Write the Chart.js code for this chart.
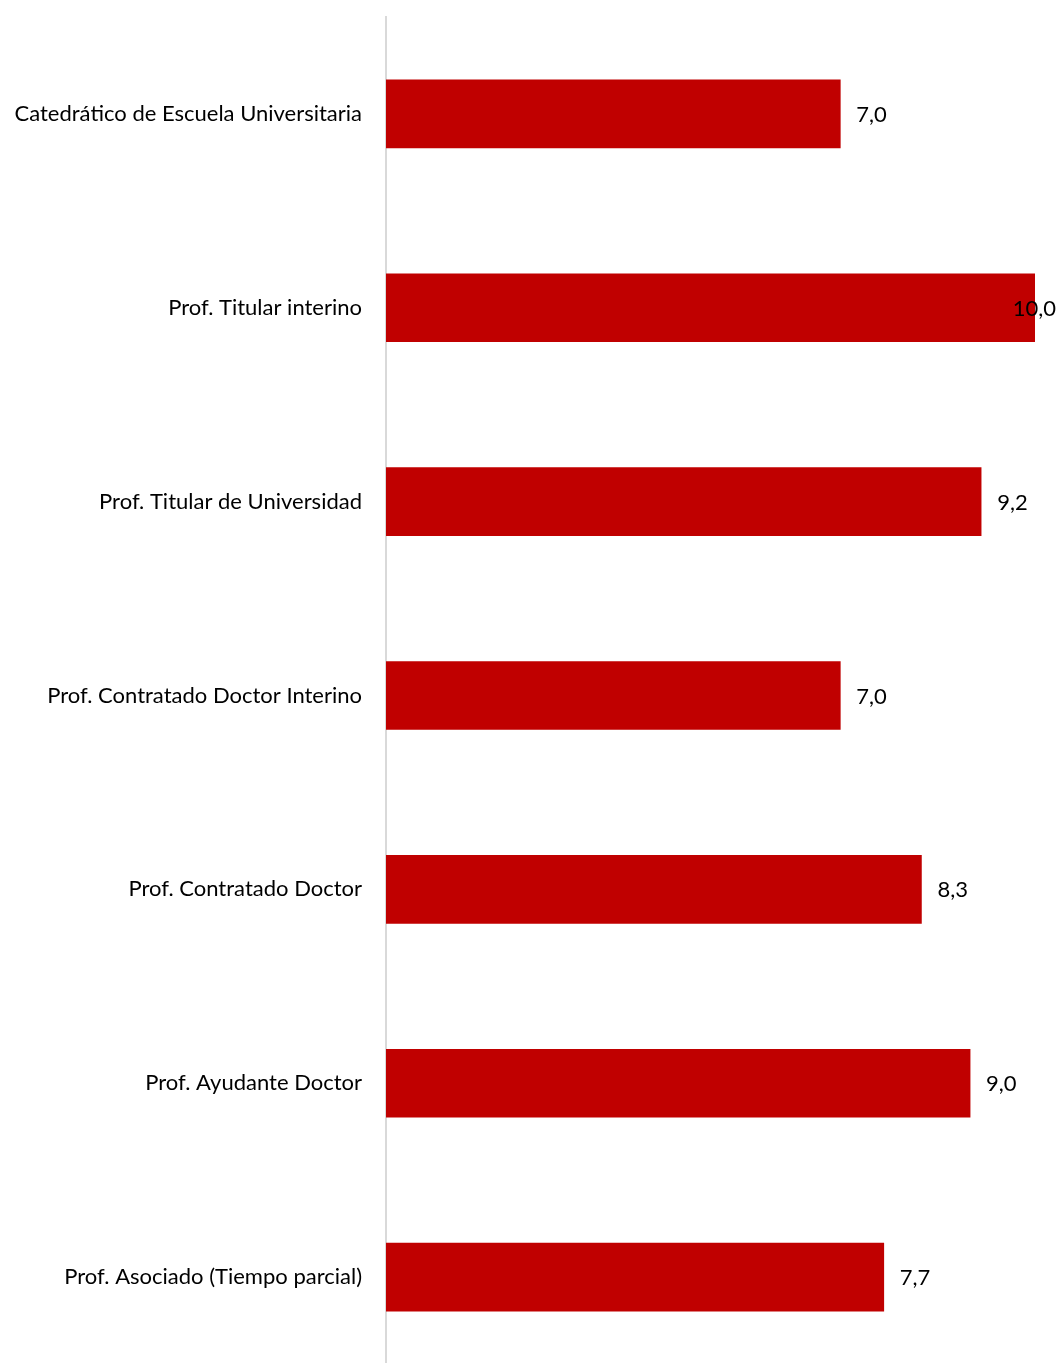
<!DOCTYPE html>
<html>
<head>
<meta charset="utf-8">
<script src="https://cdn.jsdelivr.net/npm/chart.js@4.4.1/dist/chart.umd.min.js"></script>
<style>
  html, body { margin: 0; padding: 0; background: #fff; overflow: hidden; }
  #barChart { display: block; }
</style>
</head>
<body>
<canvas id="barChart" width="1061" height="1380" style="width:1061px;height:1380px"></canvas>
<script>
// datos del grafico
const categorias = [
    'Catedrático de Escuela Universitaria',
    'Prof. Titular interino',
    'Prof. Titular de Universidad',
    'Prof. Contratado Doctor Interino',
    'Prof. Contratado Doctor',
    'Prof. Ayudante Doctor',
    'Prof. Asociado (Tiempo parcial)'
];
const valores = [7.0, 10.0, 9.17, 7.0, 8.25, 9.0, 7.67];
const ejeMin = 0;
const ejeMax = 10;

const FUENTE = 'Lato, "Open Sans", sans-serif';

// etiquetas de valor al final de cada barra (formato con coma)
const etiquetasValor = {
    id: 'etiquetasValor',
    afterDatasetsDraw(chart) {
        const ctx = chart.ctx;
        const meta = chart.getDatasetMeta(0);
        ctx.save();
        ctx.font = '22px ' + FUENTE;
        ctx.fillStyle = '#000';
        ctx.textBaseline = 'middle';
        ctx.textAlign = 'left';
        meta.data.forEach((bar, i) => {
            const txt = valores[i].toFixed(1).replace('.', ',');
            const w = ctx.measureText(txt).width;
            let x = bar.x + 16;
            if (x + w > chart.width - 5) x = chart.width - 5 - w;
            ctx.fillText(txt, x, bar.y + 1);
        });
        ctx.restore();
    }
};

new Chart(document.getElementById('barChart'), {
    type: 'bar',
    plugins: [etiquetasValor],
    data: {
        labels: categorias,
        datasets: [{
            data: valores,
            backgroundColor: '#c00000',
            borderWidth: 0,
            barThickness: 68
        }]
    },
    options: {
        indexAxis: 'y',
        responsive: false,
        animation: false,
        layout: { padding: { top: 17, right: 26, bottom: 6, left: 0 } },
        plugins: {
            legend: { display: false },
            tooltip: { enabled: false }
        },
        scales: {
            x: {
                display: false,
                min: ejeMin,
                max: ejeMax
            },
            y: {
                afterFit: (scale) => {
                    scale.width = 386;
                    scale.paddingTop = 0;
                    scale.paddingBottom = 0;
                },
                grid: { display: false },
                border: { display: true, color: '#d9d9d9', width: 2 },
                ticks: {
                    padding: 16,
                    color: '#000',
                    font: { family: FUENTE, size: 22 }
                }
            }
        }
    }
});
</script>
</body>
</html>
